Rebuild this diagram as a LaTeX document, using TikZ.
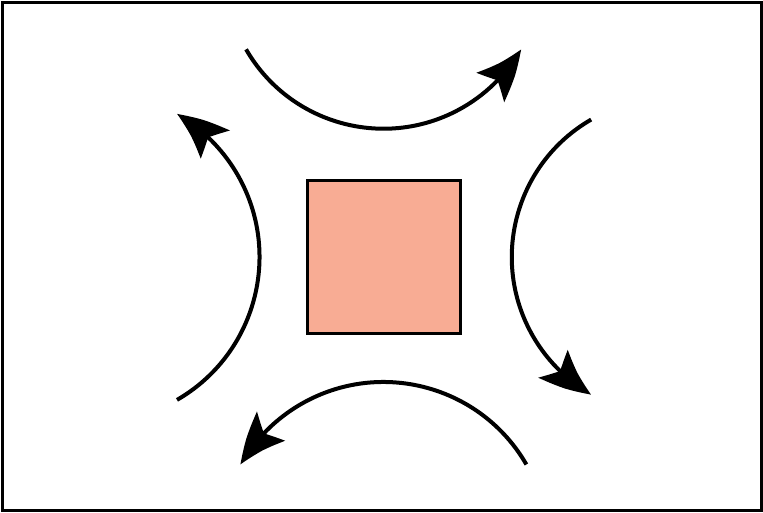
\documentclass[tikz,border=0pt]{standalone}
\usetikzlibrary{arrows.meta,bending}
\definecolor{boxfill}{HTML}{F8AC94}
\begin{document}
\begin{tikzpicture}
  \useasboundingbox (0,0) rectangle (15.26,10.24);
  % outer frame
  \draw[line width=0.06cm] (0.05,0.03) rectangle (15.23,10.19);

  % square in the middle
  \node[draw, line width=0.06cm, fill=boxfill, minimum size=3.06cm, inner sep=0pt] (box) at (7.67,5.1) {};

  % four arrows turning clockwise round the square
  % rotation / distance of arc centre / radius
  \foreach \ang/\dist/\rad in {0/5.74/3.174, -90/5.74/3.174, -180/5.8/3.3, -270/5.78/3.3}
    \draw[line width=0.08cm, -{Stealth[length=0.98cm,width=0.8cm,inset=0.2cm,bend]},
          shift={(box.center)}, rotate=\ang]
      (0,\dist) ++(210:\rad) arc[start angle=210, end angle=330, radius=\rad];
\end{tikzpicture}
\end{document}
